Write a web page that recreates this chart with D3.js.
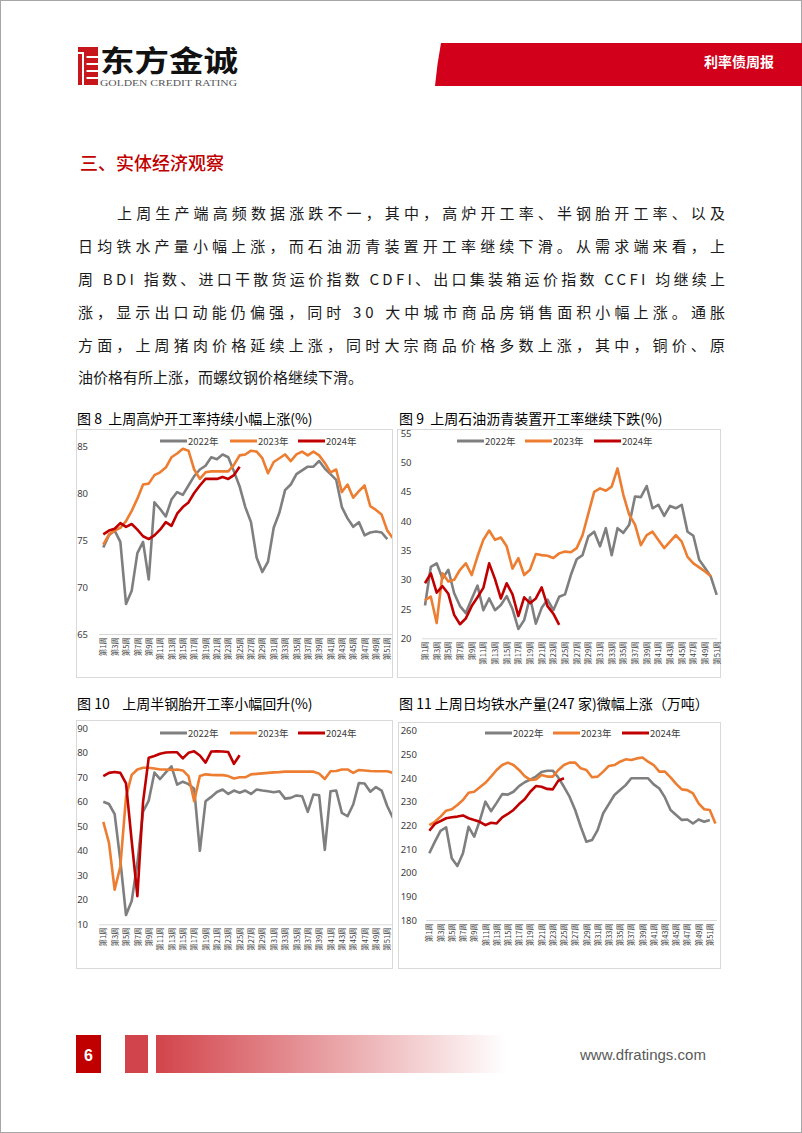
<!DOCTYPE html>
<html>
<head>
<meta charset="utf-8">
<script src="https://cdn.jsdelivr.net/npm/d3@7/dist/d3.min.js"></script>
<style>
  html, body { margin: 0; padding: 0; background: #fff; }
  svg { display: block; }
  text { font-family: "Noto Sans CJK SC", "Noto Sans", sans-serif; }
</style>
</head>
<body>
<svg id="page" width="802" height="1133"></svg>
<script>
// ---- data ----
const weeks = d3.range(1, 53);
const tickWeeks = weeks.filter(w => w % 2 === 1);
const seriesNames = ["2022年", "2023年", "2024年"];
const seriesColors = ["#7f7f7f", "#ed7d31", "#c00000"];

// 图8 高炉开工率 (%)
const blast2022 = [74.2, 75.5, 76.0, 74.8, 68.2, 69.6, 73.6, 74.8, 70.8, 79.0, 78.3, 77.5, 79.3, 80.1, 79.8, 80.8, 81.8, 82.5, 82.9, 83.8, 83.6, 84.1, 83.8, 82.3, 80.7, 78.5, 76.9, 73.1, 71.6, 72.7, 76.3, 77.9, 80.3, 80.9, 82.0, 82.4, 82.8, 82.8, 83.4, 82.6, 82.0, 81.4, 78.5, 77.3, 76.4, 76.9, 75.5, 75.8, 75.9, 75.8, 75.1];
const blast2023 = [74.5, 75.6, 76.0, 76.3, 77.0, 78.1, 79.4, 80.9, 81.0, 81.9, 82.2, 82.7, 83.8, 84.2, 84.7, 84.5, 82.5, 81.5, 82.2, 82.3, 82.3, 82.3, 82.3, 83.0, 84.0, 84.1, 84.5, 84.4, 83.7, 82.1, 83.3, 83.7, 84.1, 83.4, 84.1, 84.4, 84.0, 84.4, 84.0, 83.2, 82.2, 82.5, 80.1, 80.9, 79.5, 80.2, 80.8, 78.6, 78.2, 77.7, 76.0, 75.2];
const blast2024 = [75.6, 76.0, 76.2, 76.8, 76.4, 76.7, 76.1, 75.4, 75.1, 75.5, 76.1, 76.9, 76.5, 77.8, 78.5, 79.0, 80.0, 80.8, 81.5, 81.5, 81.5, 81.7, 81.5, 81.9, 82.8];

// 图9 石油沥青装置开工率 (%)
const asphalt2022 = [25.6, 32.2, 32.8, 30.2, 31.7, 27.7, 25.5, 24.3, 26.7, 29.0, 24.8, 26.8, 24.8, 25.7, 27.2, 25.0, 21.6, 23.1, 27.0, 22.5, 25.2, 26.6, 24.8, 27.1, 27.5, 30.8, 33.5, 34.2, 37.4, 38.2, 35.7, 38.8, 34.2, 38.8, 38.0, 39.4, 44.2, 44.1, 46.0, 42.2, 42.8, 40.9, 42.6, 42.2, 42.8, 38.2, 37.5, 33.4, 32.0, 30.5, 27.4];
const asphalt2023 = [26.5, 27.1, 22.6, 31.1, 29.7, 30.0, 31.7, 32.8, 30.8, 34.0, 36.8, 38.4, 36.8, 37.2, 35.7, 31.9, 33.7, 30.8, 31.7, 34.4, 34.2, 34.1, 33.7, 34.5, 34.8, 34.7, 35.4, 37.6, 41.3, 45.0, 45.6, 45.2, 45.9, 49.0, 44.5, 41.1, 39.4, 35.9, 37.6, 38.2, 36.8, 35.4, 36.5, 37.6, 36.5, 33.9, 32.8, 32.1, 31.4, 30.6];
const asphalt2024 = [29.4, 31.1, 27.8, 28.9, 27.6, 24.0, 22.4, 23.4, 25.5, 27.0, 28.6, 32.8, 30.1, 26.8, 29.4, 27.5, 23.8, 27.0, 26.0, 26.8, 28.7, 25.5, 24.2, 22.3];

// 图10 半钢胎开工率 (%)
const tire2022 = [60.0, 59.1, 55.0, 36.0, 13.8, 19.5, 35.0, 56.0, 60.5, 71.9, 69.3, 72.0, 74.5, 67.0, 68.2, 67.2, 65.3, 40.0, 60.2, 62.0, 64.0, 65.0, 63.2, 64.6, 63.7, 64.6, 63.2, 65.0, 64.6, 64.3, 63.9, 64.3, 61.3, 61.6, 62.6, 62.3, 55.9, 63.0, 62.7, 40.4, 64.3, 64.6, 55.5, 54.1, 58.9, 67.7, 67.5, 64.1, 66.0, 64.6, 58.2, 53.4];
const tire2023 = [51.8, 43.2, 24.1, 33.6, 62.0, 71.0, 73.2, 73.9, 73.9, 73.6, 73.2, 73.2, 73.0, 73.2, 72.8, 70.5, 60.2, 70.5, 71.2, 71.0, 70.9, 70.9, 70.5, 69.5, 70.0, 70.0, 71.2, 71.4, 71.6, 71.8, 72.0, 72.1, 72.3, 72.3, 72.3, 72.3, 72.3, 72.3, 71.5, 69.3, 72.5, 72.6, 73.2, 73.2, 71.8, 73.0, 72.8, 72.6, 72.5, 72.5, 72.5, 71.8];
const tire2024 = [70.5, 71.8, 72.2, 71.8, 67.5, 44.0, 21.5, 60.0, 78.0, 78.7, 79.6, 80.1, 80.2, 80.2, 77.7, 80.0, 80.6, 78.9, 76.0, 80.5, 80.6, 80.5, 80.3, 75.5, 79.0];

// 图11 日均铁水产量 (万吨)
const iron2022 = [208.2, 213.1, 217.7, 219.2, 206.1, 202.8, 208.2, 219.4, 215.2, 222.0, 230.0, 226.0, 229.5, 233.2, 233.0, 234.2, 236.6, 238.2, 239.3, 240.6, 242.5, 243.1, 243.1, 240.2, 236.3, 232.1, 226.5, 219.4, 213.1, 213.8, 218.0, 225.1, 229.0, 232.8, 234.9, 237.0, 239.9, 239.9, 239.9, 239.9, 237.3, 235.6, 231.8, 226.5, 224.4, 222.3, 222.5, 220.8, 222.5, 221.5, 222.3];
const iron2023 = [220.1, 221.5, 223.7, 226.2, 226.8, 228.6, 230.7, 233.8, 234.2, 236.1, 238.0, 240.6, 243.4, 245.5, 246.5, 245.5, 243.4, 240.8, 239.2, 239.4, 241.3, 240.6, 240.6, 243.4, 245.5, 246.5, 246.5, 244.1, 243.4, 240.3, 240.6, 242.7, 245.1, 245.5, 246.9, 247.9, 247.6, 248.3, 248.7, 246.9, 245.5, 242.7, 242.7, 240.3, 237.5, 235.2, 234.9, 233.5, 229.3, 226.8, 226.5, 220.8];
const iron2024 = [217.7, 220.6, 221.8, 223.0, 223.4, 223.7, 224.2, 223.0, 222.3, 221.5, 220.1, 221.1, 220.8, 223.4, 224.8, 226.5, 229.0, 231.0, 234.2, 236.6, 236.3, 235.4, 235.2, 238.9, 239.9];

const bodyLines = [
  "上周生产端高频数据涨跌不一，其中，高炉开工率、半钢胎开工率、以及",
  "日均铁水产量小幅上涨，而石油沥青装置开工率继续下滑。从需求端来看，上",
  "周 BDI 指数、进口干散货运价指数 CDFI、出口集装箱运价指数 CCFI 均继续上",
  "涨，显示出口动能仍偏强，同时 30 大中城市商品房销售面积小幅上涨。通胀",
  "方面，上周猪肉价格延续上涨，同时大宗商品价格多数上涨，其中，铜价、原",
  "油价格有所上涨，而螺纹钢价格继续下滑。"
];

// ---- page ----
const svg = d3.select("#page");
svg.append("rect")
  .attr("x", 0.5).attr("y", 0.5).attr("width", 801).attr("height", 1132)
  .attr("fill", "#fff").attr("stroke", "#a6a6a6");

// header logo
const logo = svg.append("g");
logo.append("rect").attr("x", 78).attr("y", 47).attr("width", 20).attr("height", 38).attr("fill", "#c8161d");
logo.append("rect").attr("x", 82).attr("y", 52).attr("width", 2).attr("height", 33).attr("fill", "#fff");
[56, 63, 70, 77].forEach(yy => {
  logo.append("rect").attr("x", 86.5).attr("y", yy).attr("width", 11.5).attr("height", 2).attr("fill", "#fff");
});
logo.append("rect").attr("x", 78).attr("y", 52).attr("width", 4).attr("height", 2).attr("fill", "#fff");
logo.append("text").attr("x", 100).attr("y", 72)
  .attr("font-size", 29).attr("font-weight", 700).attr("fill", "#111")
  .attr("textLength", 138).attr("lengthAdjust", "spacingAndGlyphs")
  .text("东方金诚");
logo.append("text").attr("x", 100).attr("y", 85.5)
  .style("font-family", "'Liberation Serif', serif")
  .attr("font-size", 7.5).attr("fill", "#555")
  .attr("textLength", 137).attr("lengthAdjust", "spacingAndGlyphs")
  .text("GOLDEN CREDIT RATING");

svg.append("path")
  .attr("d", "M441,43 L802,43 L802,86 L435,86 Q437,64 441,43 Z")
  .attr("fill", "#d2001a");
svg.append("text").attr("x", 704).attr("y", 66.5)
  .attr("font-size", 14).attr("font-weight", 700).attr("fill", "#fff")
  .text("利率债周报");

// section title + paragraph
svg.append("text").attr("x", 80).attr("y", 170)
  .attr("font-size", 18).attr("font-weight", 500).attr("fill", "#c00000")
  .text("三、实体经济观察");

const bodyY = [219, 252, 285, 318, 351, 383];
bodyLines.forEach((s, i) => {
  const x0 = i === 0 ? 117 : 78;
  const t = svg.append("text")
    .attr("x", x0).attr("y", bodyY[i])
    .attr("font-size", 15).attr("fill", "#1a1a1a")
    .text(s);
  if (i < bodyLines.length - 1) {
    t.attr("textLength", 725 - x0).attr("lengthAdjust", "spacing");
  }
});

// ---- charts ----
function drawChart(c) {
  const g = svg.append("g");
  g.append("text").attr("x", c.titleX).attr("y", c.titleY)
    .attr("font-size", 14).attr("fill", "#000")
    .style("white-space", "pre")
    .text(c.title);

  g.append("rect").attr("x", c.box[0] + 0.5).attr("y", c.box[1] + 0.5)
    .attr("width", c.box[2]).attr("height", c.box[3])
    .attr("fill", "none").attr("stroke", "#d9d9d9");

  const x = d3.scalePoint().domain(weeks).range([c.x1, c.x1 + 51 * c.step]);
  const y = d3.scaleLinear().domain(c.yDomain).range(c.yRange);

  // y labels
  const yAxis = g.append("g").attr("transform", `translate(${c.yLabelX},0)`)
    .call(d3.axisLeft(y).tickValues(c.ticks).tickSize(0).tickPadding(0));
  yAxis.select(".domain").remove();
  yAxis.selectAll("text")
    .attr("font-size", 9.5).attr("fill", "#404040")
    .style("font-family", "'Noto Sans', sans-serif");

  // x axis
  g.append("line")
    .attr("x1", c.axisX[0]).attr("x2", c.axisX[1])
    .attr("y1", c.yRange[0] + 0.5).attr("y2", c.yRange[0] + 0.5)
    .attr("stroke", "#d9d9d9").attr("stroke-width", 1);
  const xAxis = g.append("g").attr("transform", `translate(0,${c.yRange[0] + 3})`)
    .call(d3.axisBottom(x).tickValues(tickWeeks).tickSize(0).tickPadding(0)
      .tickFormat(w => `第${w}周`));
  xAxis.select(".domain").remove();
  xAxis.selectAll("text")
    .attr("font-size", 7.5).attr("fill", "#404040")
    .attr("text-anchor", "end")
    .attr("transform", "rotate(-90)")
    .attr("x", 0).attr("y", 0).attr("dy", "0.35em");

  // clip
  const clipId = "clip" + c.id;
  g.append("clipPath").attr("id", clipId).append("rect")
    .attr("x", c.box[0]).attr("y", c.box[1]).attr("width", c.box[2]).attr("height", c.box[3]);

  const line = d3.line().x((d, i) => x(weeks[i])).y(d => y(d));
  c.series.forEach((s, i) => {
    g.append("path").datum(s)
      .attr("clip-path", `url(#${clipId})`)
      .attr("d", line)
      .attr("fill", "none")
      .attr("stroke", seriesColors[i])
      .attr("stroke-width", 2.6)
      .attr("stroke-linejoin", "round");
  });

  // legend
  seriesNames.forEach((n, i) => {
    const lx = c.legendX[i];
    g.append("line").attr("x1", lx).attr("x2", lx + 27)
      .attr("y1", c.legendY).attr("y2", c.legendY)
      .attr("stroke", seriesColors[i]).attr("stroke-width", 3);
    g.append("text").attr("x", lx + 28).attr("y", c.legendY + 3.5)
      .attr("font-size", 9.5).attr("fill", "#404040").text(n);
  });
}

drawChart({
  id: 8, title: "图 8  上周高炉开工率持续小幅上涨(%)", titleX: 77, titleY: 424,
  box: [76, 429, 316, 248],
  x1: 103.3, step: 5.68, axisX: [99, 392],
  yDomain: [65, 85], yRange: [634, 446], ticks: [65, 70, 75, 80, 85], yLabelX: 88,
  legendX: [160, 230, 298], legendY: 441,
  series: [blast2022, blast2023, blast2024]
});
drawChart({
  id: 9, title: "图 9  上周石油沥青装置开工率继续下跌(%)", titleX: 399, titleY: 424,
  box: [397, 429, 323, 248],
  x1: 425, step: 5.834, axisX: [422, 717],
  yDomain: [20, 55], yRange: [638.3, 433.3], ticks: d3.range(20, 56, 5), yLabelX: 411.5,
  legendX: [457, 525, 594], legendY: 441,
  series: [asphalt2022, asphalt2023, asphalt2024]
});
drawChart({
  id: 10, title: "图 10    上周半钢胎开工率小幅回升(%)", titleX: 77, titleY: 709,
  box: [76, 720, 316, 248],
  x1: 103.3, step: 5.68, axisX: [99, 392],
  yDomain: [10, 90], yRange: [924.3, 728.3], ticks: d3.range(10, 91, 10), yLabelX: 88,
  legendX: [160, 230, 298], legendY: 733,
  series: [tire2022, tire2023, tire2024]
});
drawChart({
  id: 11, title: "图 11 上周日均铁水产量(247 家)微幅上涨（万吨）", titleX: 399, titleY: 709,
  box: [398, 722, 322, 246],
  x1: 429.3, step: 5.61, axisX: [426, 717],
  yDomain: [180, 260], yRange: [920, 730.7], ticks: d3.range(180, 261, 10), yLabelX: 417,
  legendX: [485, 553, 622], legendY: 733,
  series: [iron2022, iron2023, iron2024]
});

// ---- footer ----
const defs = svg.append("defs");
const grad = defs.append("linearGradient").attr("id", "footGrad");
grad.append("stop").attr("offset", "0%").attr("stop-color", "#d2444b");
grad.append("stop").attr("offset", "100%").attr("stop-color", "#ffffff");
svg.append("rect").attr("x", 76).attr("y", 1035).attr("width", 25).attr("height", 38).attr("fill", "#c00000");
svg.append("text").attr("x", 88.5).attr("y", 1061).attr("text-anchor", "middle")
  .attr("font-size", 16).attr("font-weight", 700).attr("fill", "#fff")
  .style("font-family", "'Liberation Sans', Arial, sans-serif").text("6");
svg.append("rect").attr("x", 125).attr("y", 1035).attr("width", 23).attr("height", 38).attr("fill", "#d2444b");
svg.append("rect").attr("x", 156).attr("y", 1035).attr("width", 350).attr("height", 38).attr("fill", "url(#footGrad)");
svg.append("text").attr("x", 580).attr("y", 1060)
  .attr("font-size", 15).attr("fill", "#595959")
  .style("font-family", "'Liberation Sans', Arial, sans-serif")
  .text("www.dfratings.com");
</script>
</body>
</html>
